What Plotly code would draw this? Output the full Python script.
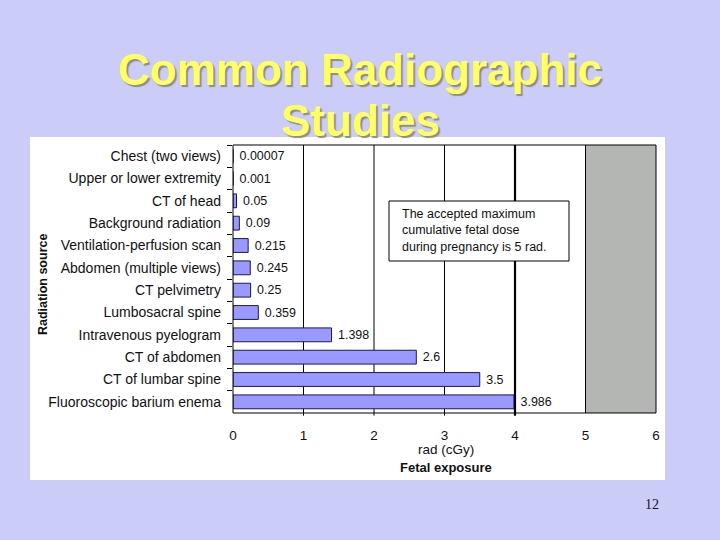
import plotly.graph_objects as go

categories = [
    "Chest (two views)",
    "Upper or lower extremity",
    "CT of head",
    "Background radiation",
    "Ventilation-perfusion scan",
    "Abdomen (multiple views)",
    "CT pelvimetry",
    "Lumbosacral spine",
    "Intravenous pyelogram",
    "CT of abdomen",
    "CT of lumbar spine",
    "Fluoroscopic barium enema",
]
values = [0.00007, 0.001, 0.05, 0.09, 0.215, 0.245, 0.25, 0.359, 1.398, 2.6, 3.5, 3.986]
labels = ["0.00007", "0.001", "0.05", "0.09", "0.215", "0.245", "0.25", "0.359", "1.398", "2.6", "3.5", "3.986"]
x_ticks = [0, 1, 2, 3, 4, 5, 6]
limit_start, limit_end = 5, 6
gridlines = [1, 2, 3]
threshold = 4
note_lines = ["The accepted maximum", "cumulative fetal dose", "during pregnancy is 5 rad."]

W, H = 720, 540
L, R, T, B = 233, 656, 145, 413
FONT = "Liberation Sans, Arial"


def px(xp):
    return (xp - L) / (R - L)


def py(yp):
    return (B - yp) / (B - T)


fig = go.Figure()
fig.add_trace(go.Bar(
    y=categories, x=values, orientation="h",
    text=labels, texttemplate="\u00a0%{text}", textposition="outside", cliponaxis=False,
    textfont=dict(family=FONT, size=13.5, color="#111111"),
    marker=dict(color="#9999FF", line=dict(color="#1a1a50", width=1)),
    width=0.62,
))

shapes = []
shapes.append(dict(type="rect", xref="paper", yref="paper",
                   x0=px(30), x1=px(665), y0=py(480), y1=py(137),
                   fillcolor="white", line=dict(width=0), layer="below"))
shapes.append(dict(type="rect", xref="x", yref="paper", x0=limit_start, x1=limit_end,
                   y0=0, y1=1, fillcolor="#B4B6B4", line=dict(width=0), layer="below"))
for g in gridlines:
    shapes.append(dict(type="line", xref="x", yref="paper", x0=g, x1=g, y0=-0.01, y1=1,
                       line=dict(color="black", width=1), layer="below"))
shapes.append(dict(type="line", xref="x", yref="paper", x0=threshold, x1=threshold, y0=-0.01, y1=1,
                   line=dict(color="black", width=2.2), layer="above"))
shapes.append(dict(type="line", xref="x", yref="paper", x0=limit_start, x1=limit_start, y0=0, y1=1,
                   line=dict(color="black", width=1), layer="above"))
shapes.append(dict(type="rect", xref="paper", yref="paper", x0=0, x1=1, y0=0, y1=1,
                   line=dict(color="black", width=1), layer="above"))
# note box
shapes.append(dict(type="rect", xref="paper", yref="paper", x0=px(389), x1=px(569),
                   y0=py(261), y1=py(201), fillcolor="white",
                   line=dict(color="black", width=1), layer="above"))

annotations = []
for txt, yc in [("Common Radiographic", 70), ("Studies", 121)]:
    annotations.append(dict(text="<b>" + txt + "</b>", xref="paper", yref="paper",
                            x=px(360), y=py(yc), xanchor="center", yanchor="middle", showarrow=False,
                            font=dict(family=FONT, size=44, color="#FFFF66",
                                      shadow="2px 2px 1px #8c8c8c")))
annotations.append(dict(text="<br>".join(note_lines), xref="paper", yref="paper",
                        x=px(400), y=py(230), xanchor="left", yanchor="middle", showarrow=False,
                        align="left",
                        font=dict(family=FONT, size=12.5, color="#111111")))
annotations.append(dict(text="rad (cGy)", xref="paper", yref="paper", x=px(446), y=py(449),
                        xanchor="center", yanchor="middle", showarrow=False,
                        font=dict(family=FONT, size=13.5, color="#111111")))
annotations.append(dict(text="<b>Fetal exposure</b>", xref="paper", yref="paper", x=px(446), y=py(467),
                        xanchor="center", yanchor="middle", showarrow=False,
                        font=dict(family=FONT, size=13, color="#111111")))
annotations.append(dict(text="<b>Radiation source</b>", xref="paper", yref="paper", x=px(43), y=py(285),
                        xanchor="center", yanchor="middle", showarrow=False, textangle=-90,
                        font=dict(family=FONT, size=12.5, color="#111111")))
annotations.append(dict(text="12", xref="paper", yref="paper", x=px(652), y=py(505),
                        xanchor="center", yanchor="middle", showarrow=False,
                        font=dict(family="Liberation Serif, Times New Roman", size=14, color="#111133")))

fig.update_layout(
    width=W, height=H,
    margin=dict(l=L, r=W - R, t=T, b=H - B, pad=0),
    paper_bgcolor="#CCCCF8", plot_bgcolor="white",
    showlegend=False,
    shapes=shapes, annotations=annotations,
    xaxis=dict(range=[0, 6], tickvals=x_ticks, showgrid=False, zeroline=False,
               showline=False, ticks="", ticklabelstandoff=12,
               tickfont=dict(family=FONT, size=13.5, color="#111111")),
    yaxis=dict(categoryorder="array", categoryarray=categories, autorange="reversed",
               showgrid=False, zeroline=False, showline=False, ticks="outside", ticklen=5,
               tickcolor="black", tickson="boundaries", ticklabelstandoff=11,
               tickfont=dict(family=FONT, size=14, color="#111111")),
)
fig.write_html("out.html", config={"displayModeBar": False},
               post_script="document.body.style.margin='0';document.body.style.overflow='hidden';")
